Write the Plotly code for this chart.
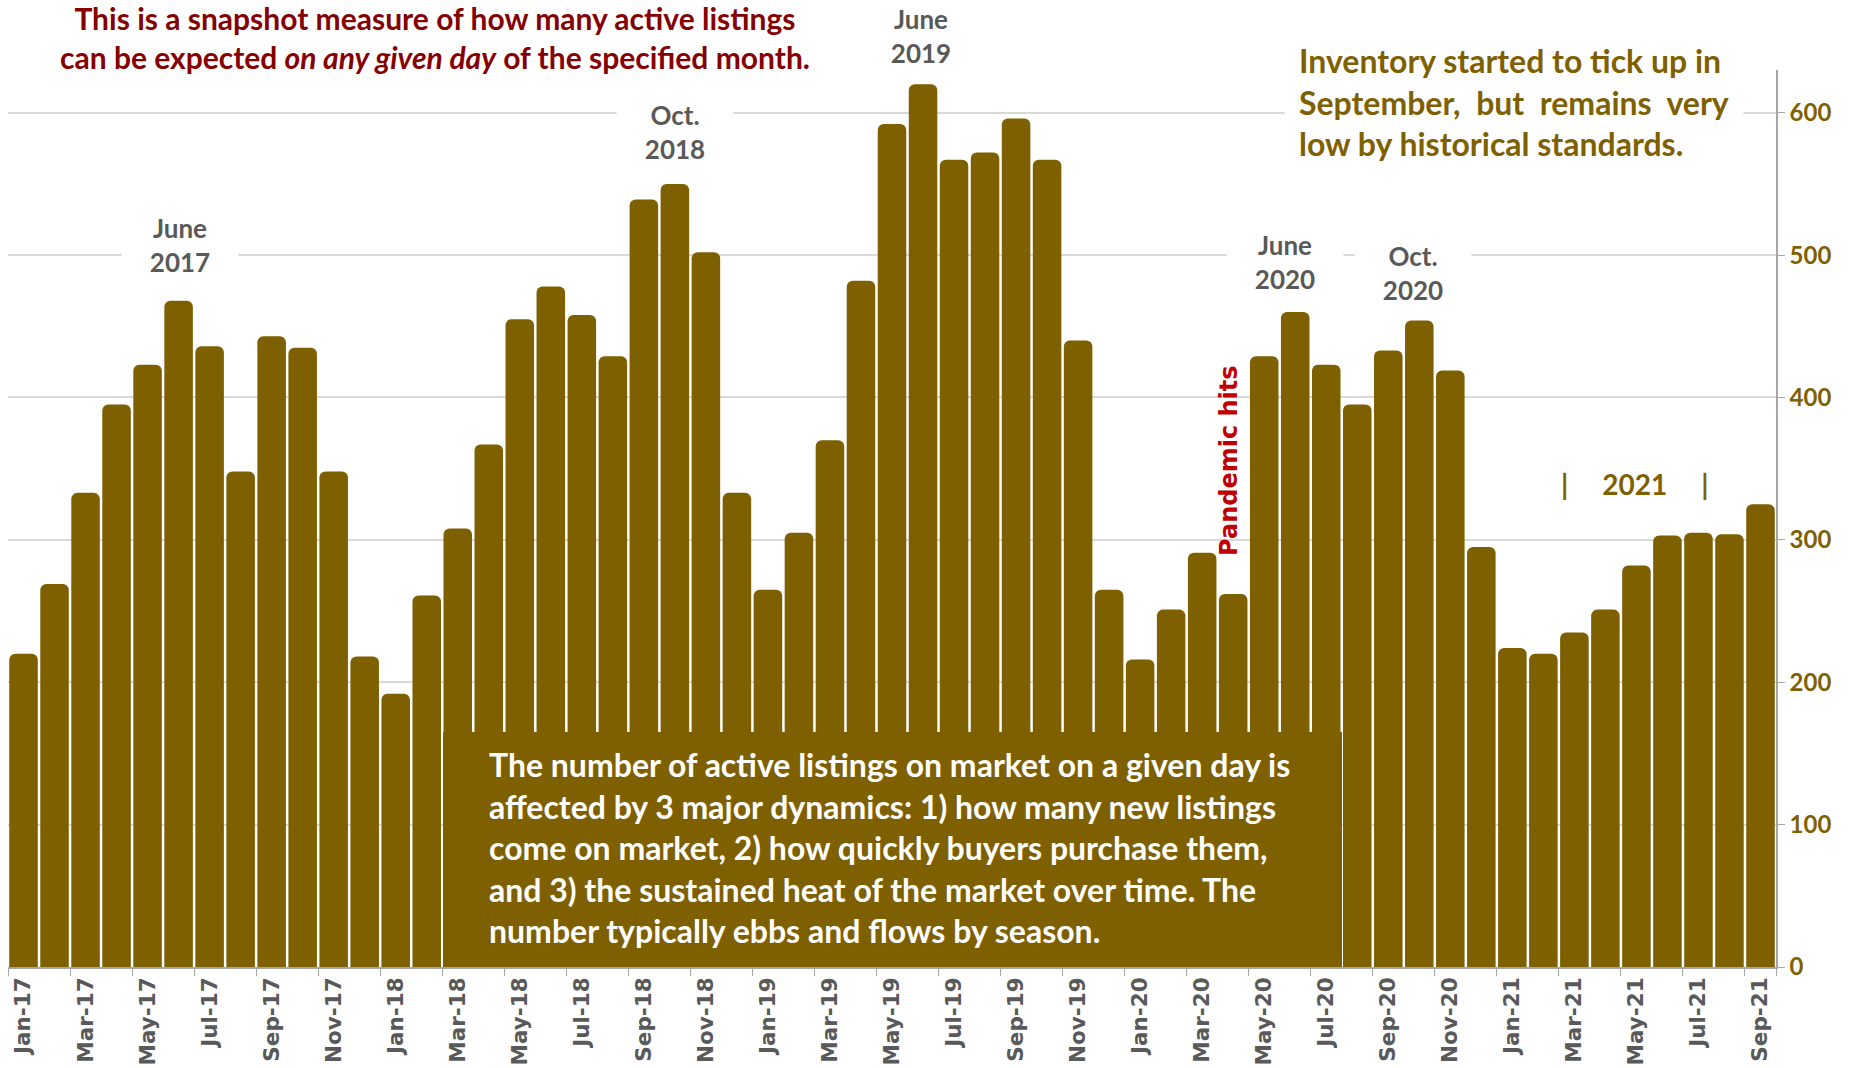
import plotly.graph_objects as go

# Monthly snapshot of active listings, Jan 2017 - Sep 2021
months = [
    "Jan-17", "Feb-17", "Mar-17", "Apr-17", "May-17", "Jun-17", "Jul-17", "Aug-17", "Sep-17", "Oct-17", "Nov-17", "Dec-17",
    "Jan-18", "Feb-18", "Mar-18", "Apr-18", "May-18", "Jun-18", "Jul-18", "Aug-18", "Sep-18", "Oct-18", "Nov-18", "Dec-18",
    "Jan-19", "Feb-19", "Mar-19", "Apr-19", "May-19", "Jun-19", "Jul-19", "Aug-19", "Sep-19", "Oct-19", "Nov-19", "Dec-19",
    "Jan-20", "Feb-20", "Mar-20", "Apr-20", "May-20", "Jun-20", "Jul-20", "Aug-20", "Sep-20", "Oct-20", "Nov-20", "Dec-20",
    "Jan-21", "Feb-21", "Mar-21", "Apr-21", "May-21", "Jun-21", "Jul-21", "Aug-21", "Sep-21",
]
listings_2017 = [220, 269, 333, 395, 423, 468, 436, 348, 443, 435, 348, 218]
listings_2018 = [192, 261, 308, 367, 455, 478, 458, 429, 539, 550, 502, 333]
listings_2019 = [265, 305, 370, 482, 592, 620, 567, 572, 596, 567, 440, 265]
listings_2020 = [216, 251, 291, 262, 429, 460, 423, 395, 433, 454, 419, 295]
listings_2021 = [224, 220, 235, 251, 282, 303, 305, 304, 325]
listings = listings_2017 + listings_2018 + listings_2019 + listings_2020 + listings_2021

y_ticks = [0, 100, 200, 300, 400, 500, 600]
x_ticks = months[::2]

BAR = "#7F6000"
GREY_TXT = "#595959"
W, H = 1854, 1068
PL, PR, PT, PB = 8, 1776, 70, 967


def fx(px):
    return (px - PL) / (PR - PL)


def fy(py):
    return (PB - py) / (PB - PT)


fig = go.Figure(
    go.Bar(
        x=months,
        y=listings,
        marker=dict(color=BAR, line=dict(width=0)),
        hoverinfo="x+y",
    )
)

annotations = []

# headline note
annotations.append(dict(
    x=fx(435), y=fy(37), xref="paper", yref="paper", xanchor="center", yanchor="middle",
    text="<b>This is a snapshot measure of how many active listings<br>"
         "can be expected <i>on any given day</i> of the specified month.</b>",
    font=dict(family="Lato", size=30, color="#850000"), showarrow=False, align="center",
))

# peak markers
peaks = [
    ("June<br>2017", 180, 245),
    ("Oct.<br>2018", 675, 132),
    ("June<br>2019", 921, 36),
    ("June<br>2020", 1285, 262),
    ("Oct.<br>2020", 1413, 273),
]
for label, px, py in peaks:
    annotations.append(dict(
        x=fx(px), y=fy(py), xref="paper", yref="paper", xanchor="center", yanchor="middle",
        text=f"<b>{label}</b>", font=dict(family="Lato", size=26, color=GREY_TXT),
        showarrow=False, bgcolor="white", width=112, borderpad=2, align="center",
    ))

# commentary on the right
annotations.append(dict(
    x=fx(1284), y=fy(102), xref="paper", yref="paper", xanchor="left", yanchor="middle",
    text="<b>Inventory started to tick up in<br>September,  but  remains  very<br>low by historical standards.</b>",
    font=dict(family="Lato", size=32, color=BAR), showarrow=False, align="left",
    bgcolor="white", borderpad=14,
))

annotations.append(dict(
    x=fx(1229), y=fy(461), xref="paper", yref="paper", xanchor="center", yanchor="middle",
    text="<b>Pandemic hits</b>", textangle=-90,
    font=dict(family="DejaVu Sans", size=24, color="#C00000"), showarrow=False,
))

annotations.append(dict(
    x=fx(1635), y=fy(484), xref="paper", yref="paper", xanchor="center", yanchor="middle",
    text="<b>|     2021     |</b>",
    font=dict(family="Lato", size=28, color=BAR), showarrow=False,
))

# explanatory box text
annotations.append(dict(
    x=fx(487), y=fy(847), xref="paper", yref="paper", xanchor="left", yanchor="middle",
    text="<b>The number of active listings on market on a given day is<br>"
         "affected by 3 major dynamics: 1) how many new listings<br>"
         "come on market, 2) how quickly buyers purchase them,<br>"
         "and 3) the sustained heat of the market over time. The<br>"
         "number typically ebbs and flows by season.</b>",
    font=dict(family="Lato", size=32, color="white"), showarrow=False, align="left",
))

shapes = [dict(
    type="rect", xref="paper", yref="paper", layer="above",
    x0=fx(443), x1=fx(1342), y0=fy(967), y1=fy(732),
    fillcolor=BAR, line=dict(width=0),
)]

fig.update_layout(
    width=W, height=H,
    margin=dict(l=PL, r=W - PR, t=PT, b=H - PB, pad=0, autoexpand=False),
    plot_bgcolor="white", paper_bgcolor="white",
    bargap=0.08, barcornerradius=6,
    showlegend=False,
    annotations=annotations,
    shapes=shapes,
    xaxis=dict(
        type="category", automargin=False,
        tickmode="array", tickvals=x_ticks, ticktext=x_ticks,
        tickangle=-90, tickson="boundaries",
        ticks="outside", ticklen=7, tickcolor="#A6A6A6",
        showline=True, linecolor="#A6A6A6", linewidth=1.5,
        showgrid=False,
        tickfont=dict(family="DejaVu Sans", size=21.5, color=GREY_TXT, weight="bold"),
    ),
    yaxis=dict(
        side="right", range=[0, 630], automargin=False,
        tickmode="array", tickvals=y_ticks,
        ticks="outside", ticklen=7, tickcolor="#A6A6A6",
        showline=True, linecolor="#A6A6A6", linewidth=1.5,
        showgrid=True, gridcolor="#D9D9D9", gridwidth=1.5,
        zeroline=False,
        tickfont=dict(family="Lato", size=24, color=BAR, weight="bold"),
    ),
)

fig.write_html("out.html")
